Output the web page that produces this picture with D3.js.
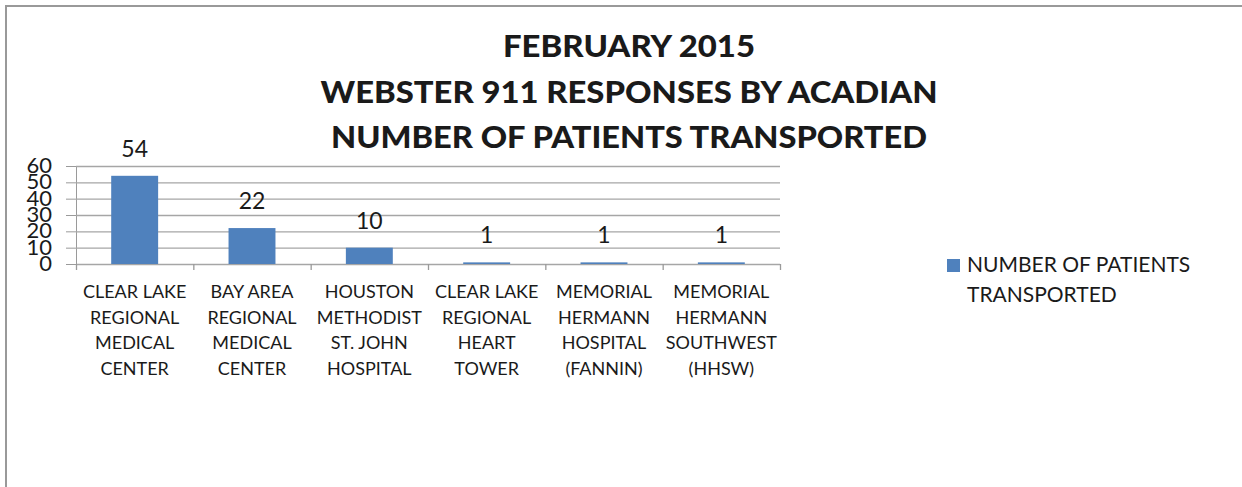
<!DOCTYPE html>
<html>
<head>
<meta charset="UTF-8">
<script src="https://d3js.org/d3.v7.min.js"></script>
<style>
  body { margin: 0; background: #fff; }
  text { font-family: Lato, "Open Sans", sans-serif; fill: #1a1a1a; }
</style>
</head>
<body>
<div id="chart"></div>
<script>
// chart data
var hospitals = [
  ["CLEAR LAKE", "REGIONAL", "MEDICAL", "CENTER"],
  ["BAY AREA", "REGIONAL", "MEDICAL", "CENTER"],
  ["HOUSTON", "METHODIST", "ST. JOHN", "HOSPITAL"],
  ["CLEAR LAKE", "REGIONAL", "HEART", "TOWER"],
  ["MEMORIAL", "HERMANN", "HOSPITAL", "(FANNIN)"],
  ["MEMORIAL", "HERMANN", "SOUTHWEST", "(HHSW)"]
];
var patients = [54, 22, 10, 1, 1, 1];
var yTicks = [0, 10, 20, 30, 40, 50, 60];
var titleLines = ["FEBRUARY 2015", "WEBSTER 911 RESPONSES BY ACADIAN", "NUMBER OF PATIENTS TRANSPORTED"];
var titleWidths = [252, 617, 596];
var legendLines = ["NUMBER OF PATIENTS", "TRANSPORTED"];

var W = 1242, H = 487;
var margin = {top: 166, left: 76, right: 462, bottom: 223};
var width = W - margin.left - margin.right,
    height = H - margin.top - margin.bottom;

var svg = d3.select("#chart").append("svg")
  .attr("width", W).attr("height", H);

// frame
svg.append("path")
  .attr("d", "M6," + H + "V6H" + W)
  .attr("fill", "none").attr("stroke", "#999").attr("stroke-width", 2);

// title
svg.append("g").selectAll("text")
  .data(titleLines).enter().append("text")
  .attr("x", 629)
  .attr("y", function(d, i) { return 57 + i * 45.5; })
  .attr("text-anchor", "middle")
  .attr("textLength", function(d, i) { return titleWidths[i]; })
  .attr("lengthAdjust", "spacingAndGlyphs")
  .style("font-weight", "900")
  .style("font-size", "30px")
  .text(function(d) { return d; });

var g = svg.append("g")
  .attr("transform", "translate(" + margin.left + "," + margin.top + ")");

var x = d3.scaleBand()
  .domain(d3.range(hospitals.length))
  .range([0, width])
  .paddingInner(0.6).paddingOuter(0.3);

var xb = d3.scaleBand().domain(d3.range(hospitals.length)).range([0, width]);

var y = d3.scaleLinear().domain([0, 60]).range([height, 0]);

// gridlines + y axis
var yAxis = g.append("g")
  .call(d3.axisLeft(y).tickValues(yTicks).tickSize(10).tickSizeOuter(0).tickFormat(""));
yAxis.select(".domain").attr("stroke", "#9a9a9a");
yAxis.selectAll(".tick line").attr("stroke", "#9a9a9a");

g.append("g").selectAll("line")
  .data(yTicks).enter().append("line")
  .attr("x1", 0).attr("x2", width)
  .attr("y1", function(d) { return y(d) + 0.5; })
  .attr("y2", function(d) { return y(d) + 0.5; })
  .attr("stroke", "#a6a6a6").attr("stroke-width", 1.3);

g.append("g").selectAll("text")
  .data(yTicks).enter().append("text")
  .attr("x", -24)
  .attr("y", function(d) { return y(d) + 7; })
  .attr("text-anchor", "end")
  .style("font-size", "22px")
  .text(function(d) { return d; });

// x axis ticks at category boundaries
var bounds = d3.range(hospitals.length + 1).map(function(i) { return i * xb.step(); });
g.append("g").selectAll("line")
  .data(bounds).enter().append("line")
  .attr("x1", function(d) { return d + 0.5; }).attr("x2", function(d) { return d + 0.5; })
  .attr("y1", height).attr("y2", height + 6)
  .attr("stroke", "#9a9a9a").attr("stroke-width", 1.3);

// bars
g.selectAll(".bar")
  .data(patients).enter().append("rect")
  .attr("class", "bar")
  .attr("x", function(d, i) { return x(i); })
  .attr("y", function(d) { return y(d); })
  .attr("width", x.bandwidth())
  .attr("height", function(d) { return height - y(d); })
  .attr("fill", "#4f81bd");

// value labels
g.selectAll(".val")
  .data(patients).enter().append("text")
  .attr("class", "val")
  .attr("x", function(d, i) { return x(i) + x.bandwidth() / 2; })
  .attr("y", function(d) { return y(d) - 19; })
  .attr("text-anchor", "middle")
  .style("font-size", "23px")
  .text(function(d) { return d; });

// category labels
var cat = g.selectAll(".cat")
  .data(hospitals).enter().append("text")
  .attr("class", "cat")
  .attr("text-anchor", "middle")
  .style("font-size", "18px")
  .attr("transform", function(d, i) {
    return "translate(" + (xb(i) + xb.bandwidth() / 2) + "," + (height + 34) + ")";
  });
cat.selectAll("tspan")
  .data(function(d) { return d; }).enter().append("tspan")
  .attr("x", 0)
  .attr("y", function(d, i) { return i * 25.7; })
  .text(function(d) { return d; });

// legend
svg.append("rect")
  .attr("x", 947).attr("y", 259).attr("width", 13).attr("height", 13)
  .attr("fill", "#4f81bd");
svg.append("g").selectAll("text")
  .data(legendLines).enter().append("text")
  .attr("x", 967)
  .attr("y", function(d, i) { return 272 + i * 30; })
  .style("font-size", "21px")
  .text(function(d) { return d; });
</script>
</body>
</html>
